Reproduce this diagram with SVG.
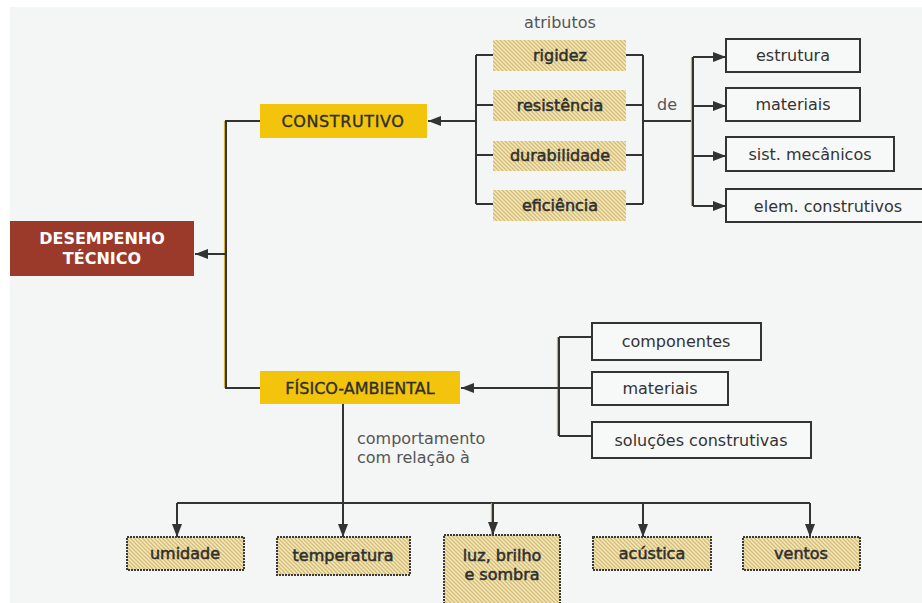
<svg xmlns="http://www.w3.org/2000/svg" width="922" height="603" viewBox="0 0 922 603">
<style>
.ln{fill:none;stroke:#333;stroke-width:2}
.yl{fill:none;stroke:#d8b21c;stroke-width:1.2}
.hb{fill:url(#hatch)}
.hbb{fill:url(#hatch);stroke:#3a3a3a;stroke-width:2;stroke-dasharray:2 1}
.wb{fill:#f7f8f8;stroke:#333;stroke-width:2}
.yb{fill:#f2c40c}
.t{font-family:"DejaVu Sans",Verdana,sans-serif;font-size:16px;fill:#333;text-anchor:middle}
.tb{font-family:"DejaVu Sans",Verdana,sans-serif;font-size:16px;fill:#2e2e2e;stroke:#2e2e2e;stroke-width:0.5;text-anchor:middle}
.th{font-family:"DejaVu Sans",Verdana,sans-serif;font-size:16px;fill:#2e2e2e;stroke:#2e2e2e;stroke-width:0.35;text-anchor:middle}
.tg{font-family:"DejaVu Sans",Verdana,sans-serif;font-size:16px;fill:#555}
.tw{font-family:"DejaVu Sans",Verdana,sans-serif;font-size:16px;font-weight:bold;fill:#fff;text-anchor:middle}
</style>
<defs>
<pattern id="hatch" width="4" height="4" patternUnits="userSpaceOnUse">
<rect width="4" height="4" fill="#f1e7c6"/>
<path d="M-1,-1 L5,5 M-1,3 L1,5 M3,-1 L5,1" stroke="#d6bd6c" stroke-width="1.3"/>
</pattern>
<marker id="ah" markerWidth="13" markerHeight="10" refX="13" refY="5" orient="auto" markerUnits="userSpaceOnUse">
<path d="M0,0 L13,5 L0,10 z" fill="#333"/>
</marker>
</defs>
<rect x="0" y="0" width="922" height="603" fill="#fff"/>
<rect x="10" y="7" width="912" height="596" fill="#f4f6f6"/>

<g id="connectors">
<path class="yl" d="M224.5,121 V388"/>
<path class="ln" d="M260,121 H226 V388 H260"/>
<path class="ln" d="M226,254 H195" marker-end="url(#ah)"/>
<path class="ln" d="M476,55 V204 M476,55 H493 M476,105 H493 M476,155 H493 M476,204 H493"/>
<path class="ln" d="M476,121 H428" marker-end="url(#ah)"/>
<path class="ln" d="M626,55 H643 M626,105 H643 M626,155 H643 M626,204 H643 M643,55 V204 M643,121 H693"/>
<path class="yl" d="M691.5,57 V206"/>
<path class="ln" d="M693,57 V206"/>
<path class="ln" d="M693,57 H726" marker-end="url(#ah)"/>
<path class="ln" d="M693,106 H726" marker-end="url(#ah)"/>
<path class="ln" d="M693,156 H726" marker-end="url(#ah)"/>
<path class="ln" d="M693,206 H726" marker-end="url(#ah)"/>
<path class="yl" d="M557.5,337 V436"/>
<path class="ln" d="M559,337 V436 M559,337 H592 M559,436 H592"/>
<path class="ln" d="M592,388 H461" marker-end="url(#ah)"/>
<path class="ln" d="M343,404 V537" marker-end="url(#ah)"/>
<path class="ln" d="M177,503 H810"/>
<path class="ln" d="M177,503 V537" marker-end="url(#ah)"/>
<path class="yl" d="M491.5,503 V535"/>
<path class="ln" d="M493,503 V535" marker-end="url(#ah)"/>
<path class="ln" d="M643,503 V537" marker-end="url(#ah)"/>
<path class="ln" d="M810,503 V537" marker-end="url(#ah)"/>
</g>

<g id="desempenho">
<rect x="10" y="221" width="184" height="55" fill="#9b3a2a"/>
<text class="tw" x="102" y="244">DESEMPENHO</text>
<text class="tw" x="102" y="264">TÉCNICO</text>
</g>
<g id="construtivo">
<rect class="yb" x="260" y="104" width="167" height="34"/>
<text class="th" x="343" y="127" style="letter-spacing:0.6px">CONSTRUTIVO</text>
</g>
<g id="fisico">
<rect class="yb" x="260" y="371" width="200" height="33"/>
<text class="th" x="360" y="394">FÍSICO-AMBIENTAL</text>
</g>

<g id="label-atributos"><text class="tg" x="560" y="28" text-anchor="middle">atributos</text></g>
<g id="rigidez"><rect class="hb" x="493" y="40" width="133" height="31"/><text class="tb" x="560" y="61">rigidez</text></g>
<g id="resistencia"><rect class="hb" x="493" y="90" width="133" height="31"/><text class="tb" x="560" y="111">resistência</text></g>
<g id="durabilidade"><rect class="hb" x="493" y="141" width="133" height="30"/><text class="tb" x="560" y="161">durabilidade</text></g>
<g id="eficiencia"><rect class="hb" x="493" y="190" width="133" height="31"/><text class="tb" x="560" y="211">eficiência</text></g>
<g id="label-de"><text class="tg" x="667" y="110" text-anchor="middle">de</text></g>

<g id="estrutura"><rect class="wb" x="726" y="39" width="134" height="33"/><text class="t" x="793" y="61">estrutura</text></g>
<g id="materiais1"><rect class="wb" x="726" y="88" width="134" height="33"/><text class="t" x="793" y="110">materiais</text></g>
<g id="sist"><rect class="wb" x="726" y="137" width="168" height="34"/><text class="t" x="810" y="160">sist. mecânicos</text></g>
<g id="elem"><rect class="wb" x="726" y="189" width="206" height="33"/><text class="t" x="828" y="212">elem. construtivos</text></g>

<g id="componentes"><rect class="wb" x="592" y="323" width="169" height="37"/><text class="t" x="676" y="347">componentes</text></g>
<g id="materiais2"><rect class="wb" x="592" y="372" width="136" height="33"/><text class="t" x="660" y="394">materiais</text></g>
<g id="solucoes"><rect class="wb" x="592" y="422" width="219" height="36"/><text class="t" x="701" y="446">soluções construtivas</text></g>

<g id="label-comportamento">
<text class="tg" x="357" y="444">comportamento</text>
<text class="tg" x="357" y="463">com relação à</text>
</g>

<g id="umidade"><rect class="hbb" x="127" y="537" width="117" height="33"/><text class="tb" x="185" y="559">umidade</text></g>
<g id="temperatura"><rect class="hbb" x="277" y="537" width="133" height="38"/><text class="tb" x="343" y="561">temperatura</text></g>
<g id="luz"><rect class="hbb" x="444" y="535" width="116" height="70"/><text class="tb" x="502" y="561">luz, brilho</text><text class="tb" x="502" y="580">e sombra</text></g>
<g id="acustica"><rect class="hbb" x="593" y="537" width="118" height="33"/><text class="tb" x="652" y="559">acústica</text></g>
<g id="ventos"><rect class="hbb" x="743" y="537" width="117" height="33"/><text class="tb" x="801" y="559">ventos</text></g>
</svg>
